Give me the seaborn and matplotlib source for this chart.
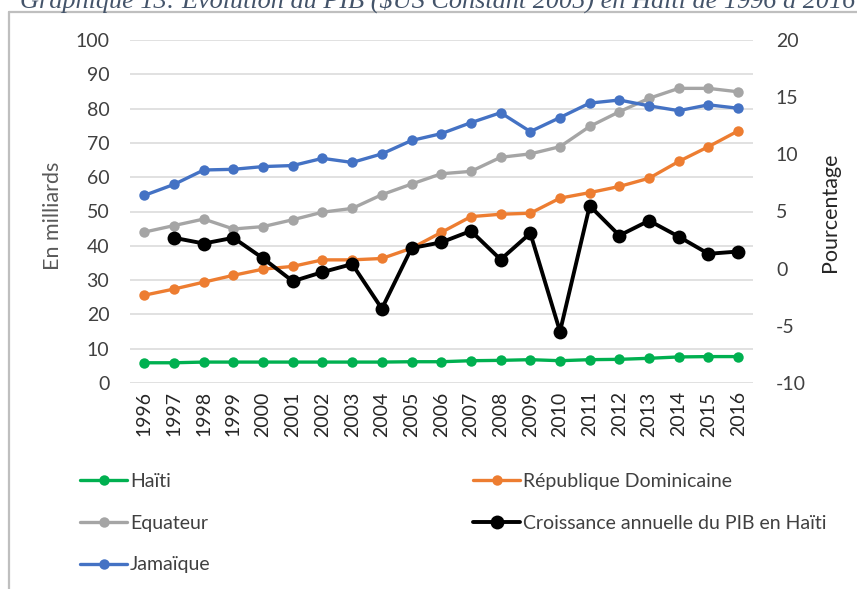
import matplotlib.pyplot as plt
import matplotlib.lines as mlines
import seaborn as sns
import numpy as np

years = list(range(1996, 2017))

haiti = [5.9, 5.9, 6.1, 6.1, 6.1, 6.1, 6.1, 6.1, 6.1, 6.2, 6.2,
         6.5, 6.6, 6.8, 6.5, 6.8, 6.9, 7.2, 7.6, 7.7, 7.7]
rep_dom = [25.6, 27.4, 29.4, 31.4, 33.2, 34.0, 35.9, 35.9, 36.3, 39.3, 43.9,
           48.5, 49.2, 49.5, 53.9, 55.5, 57.3, 59.7, 64.6, 68.9, 73.5]
equateur = [44.0, 45.9, 47.8, 44.9, 45.6, 47.6, 49.8, 50.9, 54.9, 58.0, 61.0,
            61.7, 65.8, 66.8, 68.9, 74.8, 79.1, 83.0, 85.9, 85.9, 84.9]
jamaique = [54.7, 57.9, 62.1, 62.3, 63.1, 63.4, 65.5, 64.3, 66.8, 70.7, 72.7,
            75.9, 78.8, 73.3, 77.4, 81.6, 82.5, 80.8, 79.4, 81.1, 80.1]

growth_years = list(range(1997, 2017))
croissance = [2.7, 2.2, 2.7, 0.9, -1.1, -0.3, 0.4, -3.5, 1.8, 2.3,
              3.3, 0.8, 3.1, -5.5, 5.5, 2.9, 4.2, 2.8, 1.3, 1.5]

W, H = 857, 589
sns.set_style("white")
plt.rcParams['font.family'] = ['Lato', 'DejaVu Sans']
plt.rcParams['axes.unicode_minus'] = False

fig = plt.figure(figsize=(W / 100, H / 100), dpi=100)
left, right, top, bottom = 129.5, 753, 40, 383
ax = fig.add_axes([left / W, 1 - bottom / H, (right - left) / W, (bottom - top) / H])
ax2 = ax.twinx()

series = [
    ("Haïti", haiti, "#00B050"),
    ("Equateur", equateur, "#A5A5A5"),
    ("Jamaïque", jamaique, "#4472C4"),
    ("République Dominicaine", rep_dom, "#ED7D31"),
]
handles = {}
for name, vals, col in series:
    sns.lineplot(x=years, y=vals, ax=ax, color=col, marker='o', markersize=7.5,
                 markeredgewidth=0, linewidth=2.4, legend=False)
    handles[name] = ax.lines[-1]

sns.lineplot(x=growth_years, y=croissance, ax=ax2, color="black", marker='o',
             markersize=10, markeredgewidth=0, linewidth=2.8, legend=False)
handles["Croissance annuelle du PIB en Haïti"] = ax2.lines[-1]

ax.set_xlim(1995.5, 2016.5)
ax.set_ylim(0, 100)
ax.set_yticks(range(0, 101, 10))
ax2.set_ylim(-10, 20)
ax2.set_yticks(range(-10, 21, 5))
ax.set_xticks(years)
ax.set_xticklabels([str(y) for y in years], rotation=90)

ax.grid(axis='y', color='#D9D9D9', linewidth=1.1)
ax.set_axisbelow(True)
for a in (ax, ax2):
    for s in a.spines.values():
        s.set_visible(False)
    a.set_xlabel('')

ax.tick_params(axis='y', length=0, pad=14.5, labelsize=14, labelcolor='#404040')
ax.tick_params(axis='x', length=0, pad=6, labelsize=14, labelcolor='#262626')
ax2.tick_params(axis='y', length=0, pad=16.5, labelsize=14, labelcolor='#404040')

ax.set_ylabel("En milliards", fontsize=15.5, color='#595959')
ax.yaxis.set_label_coords(-0.107, 0.487)
ax2.set_ylabel("Pourcentage", fontsize=15.5, color='#262626')
ax2.yaxis.set_label_coords(1.1075, 0.498)

leg_kw = dict(frameon=False, fontsize=14, handlelength=2.42, handletextpad=0.15,
              labelspacing=1.27, borderpad=0, borderaxespad=0, labelcolor='#404040')
names1 = ["Haïti", "Equateur", "Jamaïque"]
names2 = ["République Dominicaine", "Croissance annuelle du PIB en Haïti"]
leg1 = fig.legend([handles[n] for n in names1], names1, loc='upper left',
                  bbox_to_anchor=(80 / W, 1 - 473 / H), **leg_kw)
leg2 = fig.legend([handles[n] for n in names2], names2, loc='upper left',
                  bbox_to_anchor=(473 / W, 1 - 473 / H), **leg_kw)

# outer frame of the chart box
fig.add_artist(mlines.Line2D([8.5 / W, 8.5 / W], [0, 1 - 12 / H], color='#BFBFBF', linewidth=1.6))
fig.add_artist(mlines.Line2D([8.5 / W, 1], [1 - 12 / H, 1 - 12 / H], color='#BFBFBF', linewidth=1.6))

fig.text(20 / W, 1 - 7.5 / H,
         "Graphique 13: Évolution du PIB ($US Constant 2005) en Haïti de 1996 à 2016",
         family='Liberation Serif', style='italic', fontsize=18.9, color='#44546A',
         ha='left', va='baseline')

fig.savefig("out.png", dpi=100)
